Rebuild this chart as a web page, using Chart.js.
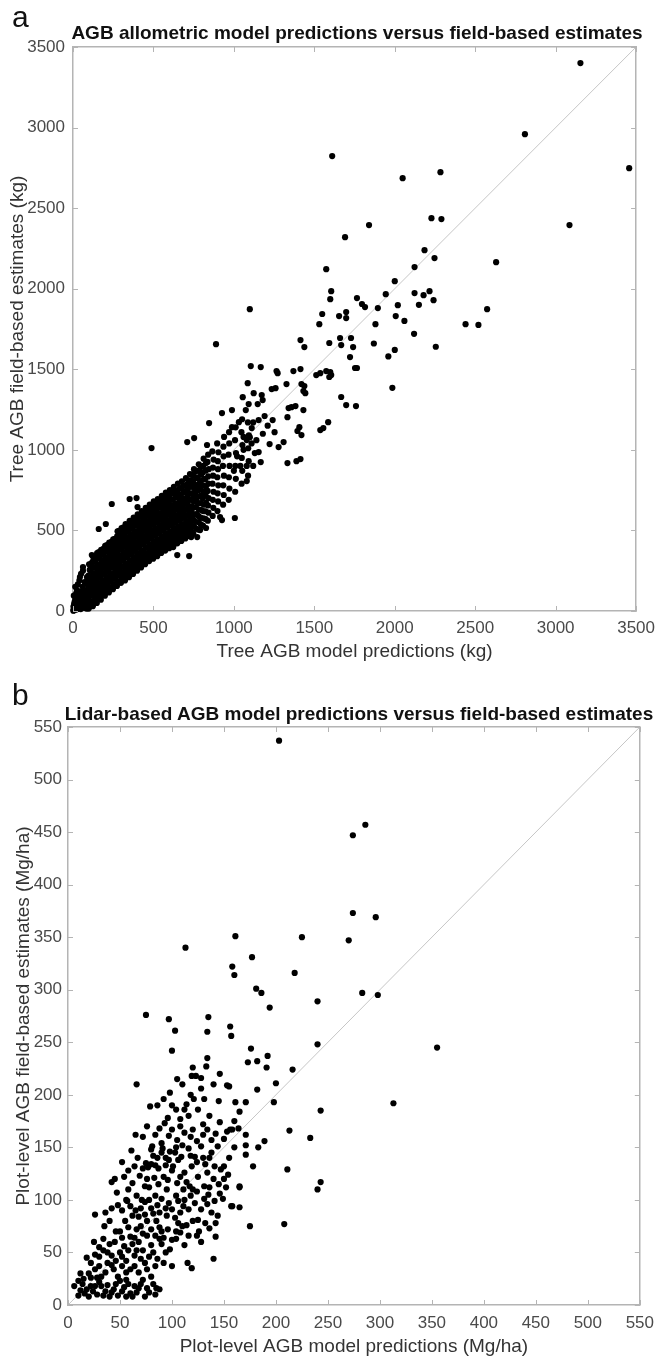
<!DOCTYPE html>
<html>
<head>
<meta charset="utf-8">
<script src="https://cdn.jsdelivr.net/npm/chart.js@4.4.1/dist/chart.umd.min.js"></script>
<style>
  body { margin: 0; background: #fff; }
  #page { position: relative; width: 662px; height: 1360px; font-family: "Liberation Sans", Arial, sans-serif; }
  canvas { position: absolute; left: 0; }
  .panel { position: absolute; left: 12px; font-size: 30px; line-height: 30px; color: #111; }
  .title { position: absolute; font-weight: bold; font-size: 19px; line-height: 19px; color: #111; white-space: nowrap; transform: translateX(-50%); }
</style>
</head>
<body>
<div id="page">
  <canvas id="chartA" width="662" height="680" style="top:0"></canvas>
  <canvas id="chartB" width="662" height="680" style="top:680px"></canvas>
  <div class="panel" style="top:2px">a</div>
  <div class="title" style="left:357px;top:23px">AGB allometric model predictions versus field-based estimates</div>
  <div class="panel" style="top:680px">b</div>
  <div class="title" style="left:359px;top:704px">Lidar-based AGB model predictions versus field-based estimates</div>
</div>
<script>
// tick labels for both panels
const treeTicks = [0, 500, 1000, 1500, 2000, 2500, 3000, 3500];
const plotTicks = [0, 50, 100, 150, 200, 250, 300, 350, 400, 450, 500, 550];

// panel a: [model prediction, field estimate] in kg
const treeCore = [
  [2,2],[4,10],[6,4],[9,18],[3,28],[12,8],[15,22],[7,45],[18,38],[11,60],[21,10],[24,30],[16,80],[27,55],[30,15],[5,95],
  [33,40],[20,110],[36,70],[39,25],[25,130],[42,95],[45,50],[14,150],[48,12],[30,165],[51,120],[54,75],[57,35],[40,190],
  [60,150],[63,100],[66,55],[69,20],[50,230],[72,180],[75,130],[78,85],[81,45],[84,15],[62,250],[87,210],[90,165],[93,115],[96,70],
  [98,15],[102,45],[97,80],[103,115],[99,150],[101,185],[96,220],[104,255],[100,290],
  [123,30],[127,60],[124,95],[128,130],[122,165],[126,200],[125,235],[129,270],[121,305],[126,335],
  [148,50],[152,80],[149,115],[153,150],[147,185],[151,220],[150,255],[154,290],[146,325],[150,360],
  [173,70],[177,100],[174,135],[178,170],[172,205],[176,240],[175,275],[179,310],[171,345],[175,380],
  [198,95],[202,125],[199,160],[203,195],[197,230],[201,265],[200,300],[204,335],[196,370],[200,405],
  [223,115],[227,145],[224,180],[228,215],[222,250],[226,285],[225,320],[229,355],[221,390],[225,425],
  [248,135],[252,165],[249,200],[253,235],[247,270],[251,305],[250,340],[254,375],[246,410],[250,445],
  [273,155],[277,185],[274,220],[278,255],[272,290],[276,325],[275,360],[279,395],[271,430],[275,465],[277,495],
  [298,175],[302,205],[299,240],[303,275],[297,310],[301,345],[300,380],[304,415],[296,450],[300,485],[302,515],
  [323,190],[327,225],[324,260],[328,295],[322,330],[326,365],[325,400],[329,435],[321,470],[325,505],[327,540],
  [348,210],[352,245],[349,280],[353,315],[347,350],[351,385],[350,420],[354,455],[346,490],[350,525],[352,560],
  [373,230],[377,265],[374,300],[378,335],[372,370],[376,405],[375,440],[379,475],[371,510],[375,545],[377,580],
  [398,250],[402,285],[399,320],[403,355],[397,390],[401,425],[400,460],[404,495],[396,530],[400,565],[402,600],
  [423,270],[427,305],[424,340],[428,375],[422,410],[426,445],[425,480],[429,515],[421,550],[425,585],[427,620],
  [448,290],[452,325],[449,360],[453,395],[447,430],[451,465],[450,500],[454,535],[446,570],[450,605],[452,640],
  [473,310],[477,345],[474,380],[478,415],[472,450],[476,485],[475,520],[479,555],[471,590],[475,625],[477,660],
  [498,325],[502,360],[499,395],[503,430],[497,465],[501,500],[500,535],[504,570],[496,605],[500,640],[502,680],
  [523,340],[527,375],[524,410],[528,445],[522,480],[526,515],[525,550],[529,585],[521,620],[525,655],[527,695],
  [548,360],[552,395],[549,430],[553,465],[547,500],[551,535],[550,570],[554,605],[546,640],[550,675],[552,715],
  [573,375],[577,410],[574,445],[578,480],[572,515],[576,550],[575,585],[579,620],[571,655],[575,690],[577,735],
  [598,390],[602,425],[599,460],[603,495],[597,530],[601,565],[600,600],[604,635],[596,670],[600,710],[602,750],
  [623,405],[627,440],[624,475],[628,510],[622,545],[626,580],[625,615],[629,650],[621,690],[625,730],[627,770],
  [648,420],[652,455],[649,490],[653,525],[647,560],[651,595],[650,630],[654,665],[646,705],[650,745],[652,790],
  [673,435],[677,470],[674,505],[678,540],[672,575],[676,610],[675,645],[679,680],[671,720],[675,760],[677,805],
  [698,450],[702,490],[699,525],[703,560],[697,595],[701,630],[700,665],[704,700],[696,740],[700,780],[702,825],
  [723,465],[727,505],[724,545],[728,580],[722,615],[726,650],[725,690],[729,730],[721,770],[725,810],[727,850],
  [748,480],[752,525],[749,565],[753,600],[747,640],[751,680],[750,720],[754,760],[746,800],[750,840],[752,880],
  [778,505],[782,550],[779,590],[783,630],[777,670],[781,710],[780,750],[784,790],[776,830],[780,870],[782,910],
  [808,530],[812,575],[809,620],[813,660],[807,700],[811,740],[810,780],[814,820],[806,860],[810,900],[812,945],
  [838,560],[842,610],[839,655],[843,700],[837,745],[841,790],[840,835],[844,880],[836,925],[840,970],
  [868,590],[872,640],[869,690],[873,740],[867,790],[871,840],[870,890],[874,940],[866,990],
  [898,620],[902,680],[899,730],[903,780],[897,830],[901,880],[900,930],[904,985],[896,1040],
  [933,660],[937,720],[934,780],[938,840],[932,900],[936,960],[935,1020],[939,1080],
  [968,690],[972,760],[969,830],[973,900],[967,970],[971,1040],[970,1110],
  [1008,740],[1012,820],[1009,900],[1013,980],[1007,1060],[1011,1140],
  [1048,790],[1052,870],[1049,950],[1053,1030],[1047,1110],[1051,1190],
  [1088,840],[1092,930],[1089,1010],[1093,1090],[1087,1170]
];
// in-between points of the dense band
const treeFill = [
  [112,55],[110,96],[114,133],[111,176],[113,214],[109,257],[112,293],
  [137,72],[135,113],[139,150],[136,194],[138,230],[134,273],[137,310],[139,341],
  [162,91],[160,128],[164,171],[161,209],[163,252],[159,288],[162,331],[160,366],
  [187,108],[185,151],[189,188],[186,232],[188,269],[184,312],[187,349],[189,386],
  [212,129],[210,166],[214,209],[211,246],[213,290],[209,327],[212,369],[210,409],
  [237,147],[235,190],[239,227],[236,270],[238,306],[234,349],[237,387],[239,429],
  [262,167],[260,205],[264,247],[261,284],[263,327],[259,365],[262,407],[260,447],
  [287,181],[285,224],[289,261],[286,303],[288,341],[284,383],[287,421],[289,463],[286,497],
  [312,199],[310,237],[314,279],[311,317],[313,359],[309,397],[312,439],[310,477],[314,519],
  [337,214],[335,257],[339,294],[336,337],[338,374],[334,417],[337,454],[339,497],[336,534],
  [362,236],[360,274],[364,316],[361,354],[363,396],[359,434],[362,476],[360,514],[364,556],
  [387,254],[385,297],[389,334],[386,377],[388,414],[384,457],[387,494],[389,537],[386,574],
  [412,276],[410,314],[414,356],[411,394],[413,436],[409,474],[412,516],[410,554],[414,596],
  [437,294],[435,337],[439,374],[436,417],[438,454],[434,497],[437,534],[439,577],[436,614],
  [462,316],[460,354],[464,396],[461,434],[463,476],[459,514],[462,556],[460,594],[464,636],
  [487,332],[485,374],[489,412],[486,454],[488,492],[484,534],[487,572],[489,614],[486,652],
  [512,349],[510,387],[514,429],[511,467],[513,509],[509,547],[512,589],[510,627],[514,667],
  [537,364],[535,406],[539,444],[536,486],[538,524],[534,566],[537,604],[539,646],[536,684],
  [562,384],[560,422],[564,464],[561,502],[563,544],[559,582],[562,624],[560,662],[564,702],
  [587,397],[585,439],[589,477],[586,519],[588,557],[584,599],[587,637],[589,679],[586,717],
  [612,414],[610,452],[614,494],[611,532],[613,574],[609,612],[612,654],[610,692],[614,732],
  [637,427],[635,469],[639,507],[636,549],[638,587],[634,629],[637,667],[639,709],[636,747],
  [662,444],[660,482],[664,524],[661,562],[663,604],[659,642],[662,684],[660,722],[664,762],
  [687,457],[685,499],[689,537],[686,579],[688,617],[684,659],[687,697],[689,739],[686,777],
  [712,474],[710,512],[714,554],[711,592],[713,634],[709,672],[712,714],[710,752],[714,792],
  [737,489],[735,531],[739,569],[736,611],[738,649],[734,691],[737,729],[739,771],[736,809],[738,846],
  [765,511],[763,554],[767,601],[764,644],[766,691],[762,734],[765,781],[767,824],[764,869],
  [795,536],[793,579],[797,626],[794,669],[796,716],[792,759],[795,806],[797,849],[794,894],
  [825,571],[823,619],[827,671],[824,719],[826,771],[822,819],[825,871],[827,919]
];
const treeScatter = [
  [3154,3400],[2809,2959],[3457,2748],[1611,2823],[2284,2723],[2049,2686],[1840,2395],[3086,2395],[1691,2320],[1574,2121],
  [2228,2438],[2290,2432],[2185,2239],[2247,2190],[2630,2165],[2123,2134],[2000,2047],[1944,1966],[1765,1942],[1796,1905],
  [1815,1886],[1895,1880],[2019,1898],[2123,1973],[2179,1960],[2216,1985],[2241,1929],[1605,1985],[1599,1935],[1549,1843],
  [1654,1830],[1698,1855],[1698,1818],[2006,1830],[2574,1873],[2440,1780],[2520,1775],[1985,1385],[2255,1640],[1960,1580],
  [2000,1620],[1870,1660],[2120,1720],[2060,1800],[1880,1780],[2150,1900],
  [1099,1873],[889,1656],[1531,1780],[1660,1694],[1667,1650],[1593,1663],[1728,1694],[1741,1638],[1753,1508],[1722,1576],
  [1414,1681],[1438,1638],[1265,1489],[1272,1476],[1370,1489],[1414,1501],[1327,1408],[1259,1383],[1235,1377],[1173,1340],
  [1105,1520],[1167,1514],[1420,1408],[1438,1396],[1444,1352],[1432,1365],[1512,1464],[1537,1476],[1574,1489],[1599,1483],
  [1605,1464],[1593,1452],[1667,1328],[1698,1278],[1759,1272],[1765,1508],[1537,1123],[1556,1135],[1586,1172],[1340,1259],
  [1358,1265],[1333,1203],[1383,1272],[1432,1247],[1407,1141],[1420,1092],[1395,1117],[1278,1017],[1222,1036],[1309,1048],
  [1333,918],[1389,930],[1414,943],[1253,1110],[1241,1185],[1191,1210],[1154,1185],[1111,1135],[1099,1079],[1080,1061],
  [1123,1352],[1086,1414],[1055,1327],[1092,1284],[1148,1284],[1179,1309],[1154,986],[1167,924],[1080,806],[1006,577],
  [914,583],[926,564],[827,515],[790,502],[772,459],[735,459],[691,465],[722,341],[648,347],[623,397],
  [488,1011],[241,664],[352,695],[395,701],[160,509],[204,540],[117,347],[62,273],[43,211],[401,645],
  [710,1048],[753,1073],[833,1030],[846,1166],[926,1228],[988,1247],[988,1141],[1074,1247],[1031,1172],
  [1020,960],[1060,1000],[1110,1040],[1040,900],[1130,980],[1180,1100],[1210,1150],[1120,1170],[1060,1080],[1140,1060],
  [1000,870],[1080,900],[1120,900]
];

// panel b: [model prediction, field estimate] in Mg/ha
const plotUpper = [
  [203,537],[286,457],[274,447],[274,373],[296,369],[113,340],[161,351],[225,350],[270,347],[177,331],[158,322],[160,314],
  [218,316],[181,301],[186,297],[240,289],[194,283],[75,276],[97,272],[135,274],[103,261],[134,260],[156,265],[157,256],
  [240,248],[100,242],[134,235],[176,244],[182,232],[173,231],[192,237],[191,226],[216,224],[105,215],[110,210],[119,218],
  [123,218],[128,216],[128,206],[131,196],[114,191],[66,210],[79,189],[153,209],[155,208],[182,205],[200,211],[161,193],
  [165,184],[171,193],[164,168],[158,167],[198,193],[243,185],[213,166],[243,117],[240,110],[233,159],[211,129],[208,77],
  [175,75],[171,162],[171,152],[171,143],[178,132],[183,150],[189,156],[165,112],[158,94],[165,93],[153,165],[156,167],
  [160,175],[145,194],[133,227],[121,196],[125,186],[134,167],[138,157],[142,163],[130,162],
  [283,297],[298,295],[355,245],[313,192]
];
const plotMiddle = [
  [65,162],[52,136],[42,117],[47,107],[57,99],[26,86],[61,147],[67,140],[81,151],[80,148],[91,149],[90,145],[75,135],
  [80,134],[77,131],[87,130],[84,133],[94,133],[83,121],[87,115],[92,122],[96,119],[69,123],[74,113],[78,112],[97,138],
  [103,145],[101,132],[106,138],[109,141],[100,128],[108,122],[112,126],[105,116],[114,117],[111,110],[117,113],[71,100],
  [65,90],[74,86],[82,87],[90,101],[97,97],[100,91],[95,85],[106,99],[111,94],[103,83],[116,91],[122,97],[128,91],[125,81],
  [131,101],[141,99],[138,88],[144,85],[142,78],[149,101],[157,94],[165,113],[131,113],[125,122],[119,132],[134,126],
  [141,132],[147,129],[122,141],[116,149],[128,151],[138,145],[144,151],[105,157],[112,164],[120,167],[97,161],[90,154],
  [100,167],[93,173],[108,177],[116,180],[112,186],
  [54,122],[58,128],[62,116],[64,132],[72,130],[76,120],[82,142],[86,140],[94,140],[98,146],[104,150],[110,152],[118,142],
  [124,136],[132,134],[136,140],[140,120],[150,132],[154,124],[72,160],[76,170],[84,162],[88,168],[96,178],[104,186],
  [108,170],[118,160],[124,156],[130,172],[136,180],[146,174],[150,158],[86,190],[92,196],[98,202],[100,190],[118,200],
  [120,226],[140,210],[146,220]
];
const plotLower = [
  [6,18],[10,23],[10,9],[18,15],[20,8],[24,13],[26,18],[16,11],[28,26],[26,48],[32,18],[36,13],[40,8],[34,9],[44,15],
  [38,19],[48,9],[52,13],[56,8],[60,11],[68,16],[74,8],[76,16],[84,10],[85,16],[36,31],[44,34],[38,40],[52,37],[60,34],
  [48,27],[56,24],[32,27],[30,37],[42,47],[50,50],[56,42],[34,52],[40,58],[34,63],[64,47],[72,52],[68,60],[76,66],[80,57],
  [88,63],[94,50],[98,53],[104,63],[112,57],[108,69],[114,76],[124,66],[128,60],[136,73],[142,65],[100,37],[115,40],
  [119,35],[140,44],[64,18],[72,24],[80,27],[68,31],[76,34],[84,37],[64,37],[56,31],[50,23],
  [45,60],[50,70],[55,80],[60,65],[62,85],[70,75],[58,110],[48,95],[40,80],[35,75],[30,55],[22,40],[20,30],[15,25],
  [45,120],[85,80],[90,70],[95,110],[110,75],[120,110],[130,140],[150,120],[155,140],[160,150],[145,115],[135,105],
  [86,95],[78,100],[66,72],[54,56],[25,60],[18,45],[12,30],
  [12,14],[14,20],[22,18],[28,10],[30,22],[42,12],[46,20],[54,17],[58,20],[62,8],[66,12],[70,20],[78,12],[82,20],[88,15],
  [22,26],[26,34],[30,46],[38,50],[42,38],[46,42],[52,46],[58,52],[62,58],[66,52],[70,44],[74,40],[78,46],[82,50],[86,44],
  [90,58],[92,40],[46,70],[52,64],[58,74],[64,64],[68,84],[72,68],[76,80],[80,72],[84,66],[88,74],[92,64],[96,72],[100,62],
  [104,70],[106,78],[116,66],[120,80],[126,70],[132,78],[36,88],[42,92],[52,90],[56,100],[60,94],[66,104],[70,92],[74,98],
  [80,92],[84,104],[88,88],[94,92],[104,104],[108,88],[112,100],[118,104],[124,108],[134,96],[136,112],[146,106],[152,112]
];

const axisColor = '#b4b4b4';
Chart.defaults.font.family = '"Liberation Sans", Arial, sans-serif';

// MATLAB-like ticks pointing into the box on all four sides
const innerTicks = {
  id: 'innerTicks',
  afterDatasetsDraw(chart) {
    const { ctx, chartArea: a, scales: { x, y } } = chart;
    ctx.save();
    ctx.strokeStyle = axisColor;
    ctx.lineWidth = 1;
    ctx.beginPath();
    x.ticks.forEach(t => {
      const p = Math.round(x.getPixelForValue(t.value)) + 0.5;
      ctx.moveTo(p, a.bottom); ctx.lineTo(p, a.bottom - 5);
      ctx.moveTo(p, a.top); ctx.lineTo(p, a.top + 5);
    });
    y.ticks.forEach(t => {
      const p = Math.round(y.getPixelForValue(t.value)) + 0.5;
      ctx.moveTo(a.left, p); ctx.lineTo(a.left + 5, p);
      ctx.moveTo(a.right, p); ctx.lineTo(a.right - 5, p);
    });
    ctx.stroke();
    ctx.restore();
  }
};

function makeChart(id, points, ticks, xTitle, yTitle, box) {
  const max = ticks[ticks.length - 1];
  const setTicks = s => { s.ticks = ticks.map(v => ({ value: v })); };
  const edge = extra => Object.assign({
    type: 'linear', min: 0, max: max,
    grid: { display: false, drawTicks: false },
    border: { display: true, color: axisColor, width: 1.5 }
  }, extra);
  const tickOpts = pad => ({ color: '#4a4a4a', font: { size: 17 }, padding: pad, maxRotation: 0, callback: v => String(v) });

  return new Chart(document.getElementById(id), {
    type: 'scatter',
    data: {
      datasets: [{
        data: points.map(p => ({ x: p[0], y: p[1] })),
        backgroundColor: '#000',
        borderWidth: 0,
        pointRadius: 3.1,
        clip: false,
        order: 1
      }, {
        type: 'line',
        data: [{ x: 0, y: 0 }, { x: max, y: max }],
        showLine: true,
        borderColor: '#c6c6c6',
        borderWidth: 1,
        pointRadius: 0,
        order: 2
      }]
    },
    options: {
      responsive: false,
      animation: false,
      layout: { padding: { top: box.top, right: box.right, left: 0, bottom: 0 } },
      plugins: { legend: { display: false }, tooltip: { enabled: false } },
      scales: {
        x: edge({
          position: 'bottom',
          afterBuildTicks: setTicks,
          afterFit: s => { s.height = box.xHeight; },
          ticks: tickOpts(box.xPad),
          title: { display: true, text: xTitle, color: '#333', font: { size: 19 }, padding: { top: 0, bottom: box.xTitlePad } }
        }),
        y: edge({
          position: 'left',
          afterBuildTicks: setTicks,
          afterFit: s => { s.width = box.yWidth; },
          ticks: tickOpts(box.yPad),
          title: { display: true, text: yTitle, color: '#333', font: { size: 19 }, padding: { top: box.yTitlePad, bottom: 0 } }
        }),
        x2: edge({
          position: 'top',
          ticks: { display: false },
          afterFit: s => { s.height = 0; }
        }),
        y2: edge({
          position: 'right',
          ticks: { display: false },
          afterFit: s => { s.width = 0; }
        })
      }
    },
    plugins: [innerTicks]
  });
}

makeChart('chartA', treeCore.concat(treeFill, treeScatter), treeTicks,
  'Tree AGB model predictions (kg)', 'Tree AGB field-based estimates (kg)',
  { top: 47, right: 22, xHeight: 69, yWidth: 73, xPad: 7, yPad: 8, xTitlePad: 17, yTitlePad: 6 });

makeChart('chartB', plotUpper.concat(plotMiddle, plotLower), plotTicks,
  'Plot-level AGB model predictions (Mg/ha)', 'Plot-level AGB field-based estimates (Mg/ha)',
  { top: 47, right: 13, xHeight: 55, yWidth: 68, xPad: 8, yPad: 6, xTitlePad: 2, yTitlePad: 12 });
</script>
</body>
</html>
